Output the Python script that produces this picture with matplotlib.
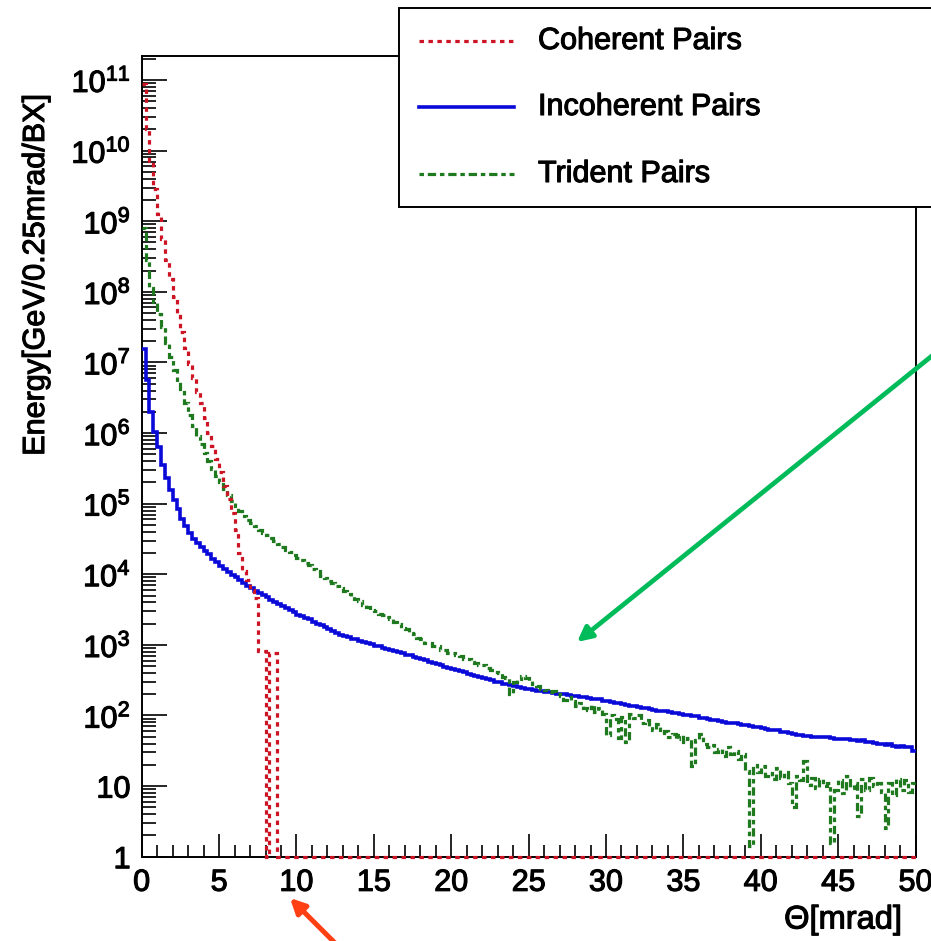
import numpy as np
import matplotlib
matplotlib.use("Agg")
import matplotlib.pyplot as plt
import matplotlib.patheffects as pe
from matplotlib.ticker import LogLocator, MultipleLocator, FuncFormatter, NullFormatter
from matplotlib.patches import Rectangle, FancyArrowPatch
from matplotlib.lines import Line2D

plt.rcParams['font.family'] = ['Liberation Sans', 'DejaVu Sans']
plt.rcParams['mathtext.fontset'] = 'custom'
plt.rcParams['mathtext.rm'] = 'Liberation Sans'

# ---- histogram data: 200 bins of 0.25 mrad, log10(energy [GeV/0.25mrad/BX]) ----
theta_min, theta_max, bin_width = 0.0, 50.0, 0.25

coherent_log10 = [
    10.95, 10.30, 9.85, 9.45, 9.10, 8.75, 8.45, 8.18, 7.93, 7.68,
    7.43, 7.20, 6.98, 6.78, 6.58, 6.42, 6.22, 6.00, 5.82, 5.63,
    5.45, 5.25, 5.06, 4.87, 4.62, 4.30, 4.05, 3.92, 3.78, 3.66,
    2.92, 2.92, None, 2.88, 2.88,
] + [None] * 165   # empty bins beyond 8.75 mrad

incoherent_log10 = [
    7.19, 6.75, 6.30, 6.02, 5.80, 5.55, 5.36, 5.20, 5.05, 4.92,
    4.78, 4.68, 4.59, 4.50, 4.44, 4.38, 4.33, 4.28, 4.22, 4.17,
    4.12, 4.07, 4.03, 3.99, 3.96, 3.92, 3.88, 3.84, 3.81, 3.77,
    3.74, 3.71, 3.68, 3.64, 3.61, 3.58, 3.55, 3.52, 3.49, 3.46,
    3.43, 3.41, 3.38, 3.36, 3.33, 3.30, 3.28, 3.25, 3.22, 3.19,
    3.17, 3.14, 3.13, 3.11, 3.09, 3.08, 3.06, 3.04, 3.02, 3.01,
    2.99, 2.98, 2.96, 2.94, 2.93, 2.91, 2.90, 2.88, 2.86, 2.85,
    2.83, 2.81, 2.80, 2.78, 2.76, 2.74, 2.73, 2.71, 2.69, 2.67,
    2.66, 2.64, 2.63, 2.61, 2.59, 2.58, 2.56, 2.55, 2.53, 2.52,
    2.50, 2.48, 2.47, 2.45, 2.44, 2.43, 2.42, 2.41, 2.39, 2.38,
    2.37, 2.36, 2.35, 2.34, 2.33, 2.33, 2.32, 2.31, 2.30, 2.30,
    2.29, 2.28, 2.27, 2.26, 2.26, 2.25, 2.24, 2.23, 2.23, 2.21,
    2.20, 2.19, 2.18, 2.17, 2.16, 2.15, 2.14, 2.13, 2.12, 2.11,
    2.10, 2.09, 2.08, 2.07, 2.06, 2.06, 2.05, 2.04, 2.03, 2.02,
    2.01, 2.00, 1.99, 1.99, 1.97, 1.96, 1.95, 1.94, 1.93, 1.92,
    1.91, 1.90, 1.90, 1.89, 1.88, 1.87, 1.86, 1.85, 1.84, 1.83,
    1.82, 1.81, 1.80, 1.79, 1.79, 1.77, 1.76, 1.75, 1.74, 1.73,
    1.72, 1.71, 1.71, 1.70, 1.70, 1.69, 1.69, 1.69, 1.68, 1.67,
    1.67, 1.66, 1.66, 1.65, 1.65, 1.64, 1.65, 1.62, 1.62, 1.61,
    1.60, 1.59, 1.58, 1.60, 1.57, 1.56, 1.57, 1.56, 1.55, 1.49,
]

trident_log10 = [
    8.90, 8.45, 8.05, 7.85, 7.68, 7.50, 7.28, 7.07, 6.90, 6.72,
    6.58, 6.42, 6.26, 6.10, 5.96, 5.84, 5.72, 5.60, 5.49, 5.39,
    5.30, 5.21, 5.12, 5.04, 4.97, 4.89, 4.83, 4.77, 4.73, 4.68,
    4.63, 4.59, 4.55, 4.51, 4.47, 4.43, 4.39, 4.35, 4.31, 4.27,
    4.23, 4.20, 4.16, 4.13, 4.07, 4.04, 3.98, 3.95, 3.91, 3.87,
    3.84, 3.80, 3.77, 3.72, 3.69, 3.65, 3.62, 3.56, 3.54, 3.50,
    3.48, 3.44, 3.42, 3.39, 3.36, 3.32, 3.29, 3.24, 3.22, 3.17,
    3.15, 3.10, 3.08, 3.03, 3.02, 2.98, 2.98, 2.93, 2.93, 2.89,
    2.89, 2.85, 2.84, 2.80, 2.80, 2.76, 2.75, 2.71, 2.71, 2.67,
    2.65, 2.62, 2.60, 2.55, 2.53, 2.30, 2.47, 2.52, 2.56, 2.53,
    2.49, 2.45, 2.42, 2.38, 2.36, 2.33, 2.35, 2.30, 2.27, 2.22,
    2.26, 2.20, 2.14, 2.18, 2.10, 2.08, 2.15, 2.05, 2.10, 2.02,
    1.72, 2.00, 1.95, 1.68, 1.98, 1.62, 2.02, 1.96, 2.00, 1.90,
    1.93, 1.85, 1.80, 1.88, 1.75, 1.78, 1.70, 1.74, 1.66, 1.72,
    1.62, 1.68, 1.28, 1.65, 1.74, 1.60, 1.55, 1.58, 1.48, 1.52,
    1.42, 1.55, 1.45, 1.50, 1.38, 1.45, 1.22, 0.15, 1.30, 1.20,
    1.28, 1.15, 1.18, 1.10, 1.25, 1.12, 1.20, 1.05, 0.70, 1.15,
    1.08, 1.35, 1.02, 1.12, 0.98, 1.10, 1.00, 1.05, 0.20, 0.95,
    1.08, 0.90, 1.15, 0.98, 1.05, 0.58, 1.10, 0.95, 1.12, 1.00,
    1.05, 0.92, 0.40, 1.05, 0.88, 1.10, 0.95, 1.08, 0.92, 1.05,
]

series_labels = ["Coherent Pairs", "Incoherent Pairs", "Trident Pairs"]
x_ticks = [0, 5, 10, 15, 20, 25, 30, 35, 40, 45, 50]
y_min, y_max = 1.0, 10 ** 11.34
x_label = "\u0398[mrad]"
y_label = "Energy[GeV/0.25mrad/BX]"

RED, BLUE, GREEN = "#cc1424", "#0a0ad8", "#1f7a1f"
ARROW_GREEN, ARROW_RED = "#00bb5a", "#ff4014"

# slightly heavier text strokes, like the Helvetica of the original canvas
HEAVY = [pe.withStroke(linewidth=0.8, foreground="black")]


def to_energy(log_list):
    """Convert log10 bin contents to energies; empty bins become 0."""
    return np.array([0.0 if v is None else 10.0 ** v for v in log_list])


edges = np.arange(theta_min, theta_max + bin_width / 2, bin_width)
coherent = to_energy(coherent_log10)
incoherent = to_energy(incoherent_log10)
trident = to_energy(trident_log10)

W, H = 931, 941
fig = plt.figure(figsize=(W / 100, H / 100), dpi=100)
fig.patch.set_facecolor("white")


def fx(px):
    return px / W


def fy(py):
    return 1.0 - py / H


ax_l, ax_r, ax_t, ax_b = 141.7, 915.5, 56.0, 856.7
ax = fig.add_axes([fx(ax_l), fy(ax_b), fx(ax_r) - fx(ax_l), (ax_b - ax_t) / H])
ax.set_yscale("log")
ax.set_xlim(theta_min, theta_max)
ax.set_ylim(y_min, y_max)


# empty bins of a log-scale histogram sit on the bottom of the frame
def floor(vals):
    return np.maximum(vals, y_min)


ax.stairs(floor(incoherent), edges, baseline=None, color=BLUE, lw=2.6,
          zorder=3)
ax.stairs(floor(trident), edges, baseline=None, color=GREEN, lw=2.3,
          linestyle=(0, (1.4, 1.2, 2.6, 1.2)), zorder=4)
ax.stairs(floor(coherent), edges, baseline=None, color=RED, lw=2.3,
          linestyle=(0, (1.4, 1.4)), zorder=5, clip_on=False)

# axis styling
for side in ("left", "bottom", "right", "top"):
    ax.spines[side].set_linewidth(1.4)
ax.xaxis.set_major_locator(MultipleLocator(5))
ax.xaxis.set_minor_locator(MultipleLocator(1))
ax.set_xticks(x_ticks)
ax.yaxis.set_major_locator(LogLocator(base=10, numticks=20))
ax.yaxis.set_minor_locator(LogLocator(base=10, subs=np.arange(2, 10), numticks=20))
ax.yaxis.set_minor_formatter(NullFormatter())


def y_fmt(v, pos):
    e = int(round(np.log10(v)))
    if e == 0:
        return "1"
    if e == 1:
        return "10"
    return r"$\mathregular{10^{%d}}$" % e


ax.yaxis.set_major_formatter(FuncFormatter(y_fmt))
ax.tick_params(which="both", direction="in", top=False, right=False, width=1.2,
               colors="black")
ax.tick_params(axis="x", which="major", length=16.5, pad=8, labelsize=22)
ax.tick_params(axis="x", which="minor", length=8.5)
ax.tick_params(axis="y", which="major", length=18, pad=8, labelsize=22)
ax.tick_params(axis="y", which="minor", length=10)
for lab in ax.get_xticklabels() + ax.get_yticklabels():
    lab.set_path_effects(HEAVY)

fig.text(fx(902), fy(920), x_label, ha="right", va="center", fontsize=23.5,
         path_effects=HEAVY)
fig.text(fx(36), fy(95), y_label, ha="center", va="top", rotation=90,
         fontsize=22, path_effects=HEAVY)

# legend box (runs past the right edge of the canvas)
leg = Rectangle((fx(399), fy(207)), fx(960) - fx(399), (207 - 8) / H,
                transform=fig.transFigure, facecolor="white",
                edgecolor="black", lw=1.4, zorder=10)
fig.add_artist(leg)
legend_rows = [
    (41, RED, (0, (1.4, 1.4)), 2.3),
    (107, BLUE, "-", 2.6),
    (174, GREEN, (0, (1.4, 1.2, 2.6, 1.2)), 2.3),
]
for (row_y, color, ls, lw), label in zip(legend_rows, series_labels):
    fig.add_artist(Line2D([fx(419), fx(514)], [fy(row_y), fy(row_y)],
                          transform=fig.transFigure, color=color, lw=lw,
                          linestyle=ls, zorder=11))
    fig.text(fx(538), fy(row_y), label, ha="left", va="center",
             fontsize=22, zorder=12, path_effects=HEAVY)

# pointer arrows
fig.add_artist(FancyArrowPatch((fx(936), fy(352.6)), (fx(577), fy(642)),
                               transform=fig.transFigure, arrowstyle="-|>",
                               mutation_scale=22, lw=3.4, color=ARROW_GREEN,
                               shrinkA=0, shrinkB=0, zorder=13))
fig.add_artist(FancyArrowPatch((fx(338), fy(946)), (fx(290), fy(898)),
                               transform=fig.transFigure, arrowstyle="-|>",
                               mutation_scale=22, lw=3.6, color=ARROW_RED,
                               shrinkA=0, shrinkB=0, zorder=13))

fig.savefig("out.png", dpi=100, facecolor="white")
